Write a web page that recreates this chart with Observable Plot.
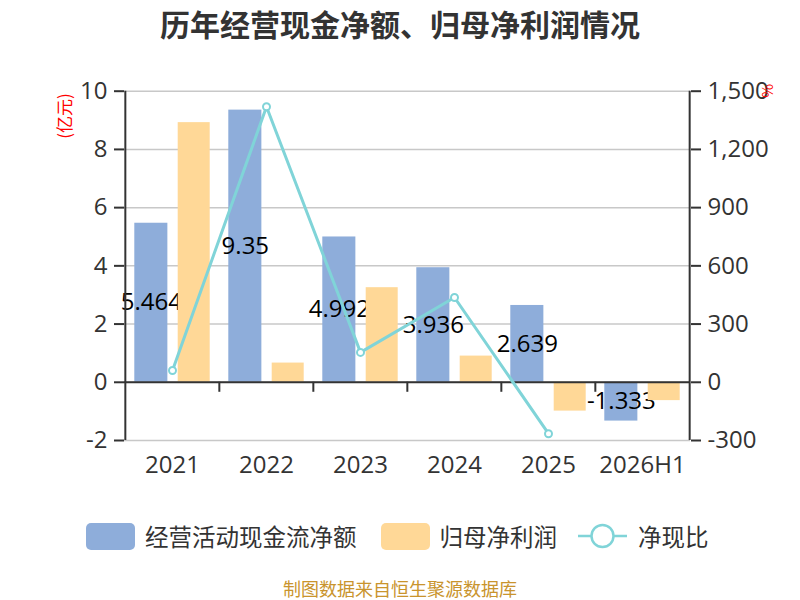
<!DOCTYPE html>
<html>
<head>
<meta charset="utf-8">
<script src="https://cdn.jsdelivr.net/npm/d3@7"></script>
<script src="https://cdn.jsdelivr.net/npm/@observablehq/plot@0.6"></script>
<style>
  html, body { margin: 0; padding: 0; background: #fff; }
  #wrap { position: relative; width: 800px; height: 600px; overflow: hidden;
          font-family: "Open Sans", "Noto Sans CJK SC", sans-serif; }
  #title { position: absolute; left: 0; top: 0; width: 800px; height: 46px; line-height: 46px;
           text-align: center; font-family: "Noto Sans CJK SC", sans-serif; font-weight: bold;
           font-size: 30px; color: #333; }
  #chart { position: absolute; left: 0; top: 60px; }
  .unit { position: absolute; color: #ff0000; font-family: "Noto Sans CJK SC", sans-serif; white-space: nowrap;
          line-height: 1; }
  #legend { position: absolute; left: 86px; top: 521px; height: 30px; display: flex; align-items: center;
            font-family: "Noto Sans CJK SC", sans-serif; font-size: 23.5px; color: #333; }
  .sw { width: 49px; height: 27px; border-radius: 5px; }
  #footer { position: absolute; left: 0; width: 800px; top: 577px; height: 22px; line-height: 22px;
            text-align: center; font-family: "Noto Sans CJK SC", sans-serif; font-size: 18px; color: #c9942d; }
</style>
</head>
<body>
<div id="wrap">
  <div id="title"></div>
  <div id="chart"></div>
  <div class="unit" id="unitL" style="left:63px; top:116px; font-size:17px; transform: translate(-50%,-50%) rotate(-90deg);"></div>
  <div class="unit" id="unitR" style="left:768px; top:91px; font-size:15px; transform: translate(-50%,-50%) rotate(90deg);"></div>
  <div id="legend"></div>
  <div id="footer"></div>
</div>
<script>
// ---- data ----
const titleText = "历年经营现金净额、归母净利润情况";
const years = ["2021", "2022", "2023", "2024", "2025", "2026H1"];
const cashFlow = [5.464, 9.35, 4.992, 3.936, 2.639, -1.333];     // 经营活动现金流净额 (亿元)
const netProfit = [8.92, 0.66, 3.25, 0.90, -0.99, -0.63];         // 归母净利润 (亿元)
const cashRatio = [61, 1420, 154, 437, -265, null];               // 净现比 (%)
const leftTicks = [-2, 0, 2, 4, 6, 8, 10];
const rightTicks = [-300, 0, 300, 600, 900, 1200, 1500];
const seriesNames = ["经营活动现金流净额", "归母净利润", "净现比"];
const leftUnit = "(亿元)";
const rightUnit = "%";
const footerText = "制图数据来自恒生聚源数据库";

// ---- style ----
const colBlue = "#8eadda", colOrange = "#ffd897", colLine = "#80d4d8", axisCol = "#333";
const W = 800, H = 440, mL = 124, mR = 110, mT = 30.7, mB = 60;
const bw = (W - mL - mR) / years.length;
const pctPerUnit = rightTicks[rightTicks.length - 1] / leftTicks[leftTicks.length - 1];
const fmtComma = d3.format(",");
const hyphen = s => String(s).replace(/\u2212/g, "-");

const rows = years.map((y, i) => ({year: y, cash: cashFlow[i], profit: netProfit[i], ratio: cashRatio[i]}));
const lineRows = rows.filter(d => d.ratio != null);

const chart = Plot.plot({
  width: W, height: H,
  marginLeft: mL, marginRight: mR, marginTop: mT, marginBottom: mB,
  style: {fontFamily: "'Open Sans', 'Noto Sans CJK SC', sans-serif", fontSize: "24px", color: axisCol, background: "transparent"},
  x: {type: "band", domain: years, padding: 0, label: null},
  y: {domain: [leftTicks[0], leftTicks[leftTicks.length - 1]], label: null},
  marks: [
    Plot.gridY(leftTicks, {stroke: "#c8c8c8", strokeOpacity: 1, strokeWidth: 1.5}),
    Plot.barY(rows, {x: "year", y: "cash", fill: colBlue, insetLeft: 9.3, insetRight: bw - 42.7}),
    Plot.text(rows, {x: "year", y: d => d.cash / 2, text: d => String(d.cash), dx: 26 - bw / 2,
                     fontSize: 24, fill: "#000", fontFamily: "'Open Sans', sans-serif"}),
    Plot.barY(rows, {x: "year", y: "profit", fill: colOrange, insetLeft: 52.7, insetRight: 9.3}),
    Plot.ruleY([0], {stroke: axisCol, strokeWidth: 2}),
    Plot.ruleX([years[0]], {dx: -bw / 2, stroke: axisCol, strokeWidth: 2}),
    Plot.ruleX([years[years.length - 1]], {dx: bw / 2, stroke: axisCol, strokeWidth: 2}),
    Plot.ruleX(years.slice(1), {dx: -bw / 2, y1: 0, y2: 0, insetBottom: -10, stroke: axisCol, strokeWidth: 2}),
    Plot.axisY({anchor: "left", ticks: leftTicks, tickSize: 10, tickPadding: 7, stroke: axisCol, strokeWidth: 2,
                fontSize: 24, label: null, tickFormat: v => hyphen(v)}),
    Plot.axisY({anchor: "right", ticks: rightTicks.map(v => v / pctPerUnit), tickSize: 10, tickPadding: 7, label: null,
                tickFormat: v => hyphen(fmtComma(Math.round(v * pctPerUnit))), stroke: axisCol, strokeWidth: 2, fontSize: 24}),
    Plot.axisX({anchor: "bottom", tickSize: 0, tickPadding: 15, fontSize: 24, label: null}),
    Plot.line(lineRows, {x: "year", y: d => d.ratio / pctPerUnit, stroke: colLine, strokeWidth: 3}),
    Plot.dot(lineRows, {x: "year", y: d => d.ratio / pctPerUnit, r: 3.5, fill: "#fff", stroke: colLine, strokeWidth: 2})
  ]
});
document.getElementById("chart").appendChild(chart);

document.getElementById("title").textContent = titleText;
document.getElementById("unitL").textContent = leftUnit;
document.getElementById("unitR").textContent = rightUnit;
document.getElementById("footer").textContent = footerText;

const lg = document.getElementById("legend");
lg.innerHTML =
  `<div class="sw" style="background:${colBlue}"></div><span style="margin-left:10px;margin-right:24px">${seriesNames[0]}</span>` +
  `<div class="sw" style="background:${colOrange}"></div><span style="margin-left:10px;margin-right:21px">${seriesNames[1]}</span>` +
  `<svg width="49" height="28" style="display:block"><line x1="0" x2="49" y1="14" y2="14" stroke="${colLine}" stroke-width="2.5"/>` +
  `<circle cx="24.5" cy="14" r="11" fill="#fff" stroke="${colLine}" stroke-width="2.5"/></svg>` +
  `<span style="margin-left:11px">${seriesNames[2]}</span>`;
</script>
</body>
</html>
